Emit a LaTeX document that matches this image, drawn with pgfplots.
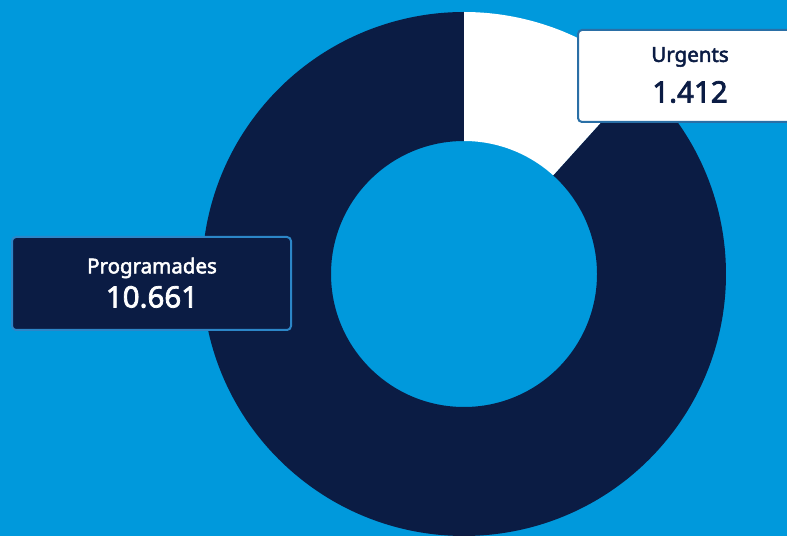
\documentclass[border=0pt]{standalone}
\usepackage{pgfplots}
\usepackage{pgfplotstable}
\pgfplotsset{compat=1.18}
\usepackage{fontspec}
\setmainfont{Noto Sans}
\newfontfamily\medfont{Noto Sans}[FakeBold=2.5]
\definecolor{bg}{HTML}{0099DC}
\definecolor{navy}{HTML}{0B1C44}
\definecolor{bordA}{HTML}{2A6FA6}
\definecolor{bordB}{HTML}{2C86C8}
\pgfplotstableread{
label value
Urgents 1.412
Programades 10.661
}\donutdata
\begin{document}
\begin{tikzpicture}
\pgfplotstablegetelem{0}{value}\of\donutdata \let\vU=\pgfplotsretval
\pgfplotstablegetelem{1}{value}\of\donutdata \let\vP=\pgfplotsretval
\pgfmathsetmacro{\aU}{360*\vU/(\vU+\vP)}
\pgfmathsetmacro{\aEnd}{90-\aU}
\begin{axis}[width=787pt,height=536pt,scale only axis,
  xmin=0,xmax=787,ymin=0,ymax=536,hide axis,clip=true]
\fill[bg] (axis cs:0,0) rectangle (axis cs:787,536);
\coordinate (c) at (axis cs:464,262);
% Programades slice
\fill[navy] ([shift={(\aEnd:262pt)}]c) arc[start angle=\aEnd, end angle=-270, radius=262pt]
  -- ([shift={(-270:133pt)}]c) arc[start angle=-270, end angle=\aEnd, radius=133pt] -- cycle;
% Urgents slice
\fill[white] ([shift={(90:262pt)}]c) arc[start angle=90, end angle=\aEnd, radius=262pt]
  -- ([shift={(\aEnd:133pt)}]c) arc[start angle=\aEnd, end angle=90, radius=133pt] -- cycle;
% labels
\draw[bordA, line width=2pt, fill=white, rounded corners=4pt]
  (axis cs:578,414) rectangle (axis cs:805,506);
\node[navy, font=\medfont\fontsize{20.5}{24}\selectfont] at (axis cs:690,479) {Urgents};
\node[navy, font=\medfont\fontsize{29.5}{34}\selectfont] at (axis cs:690,444) {\vU};
\draw[bordB, line width=2pt, fill=navy, rounded corners=4pt]
  (axis cs:12,206) rectangle (axis cs:291,299);
\node[white, font=\medfont\fontsize{20.5}{24}\selectfont] at (axis cs:152,268) {Programades};
\node[white, font=\medfont\fontsize{29.5}{34}\selectfont] at (axis cs:152,239) {\vP};
\end{axis}
\pgfresetboundingbox
\useasboundingbox (current axis.south west) rectangle (current axis.north east);
\end{tikzpicture}
\end{document}
